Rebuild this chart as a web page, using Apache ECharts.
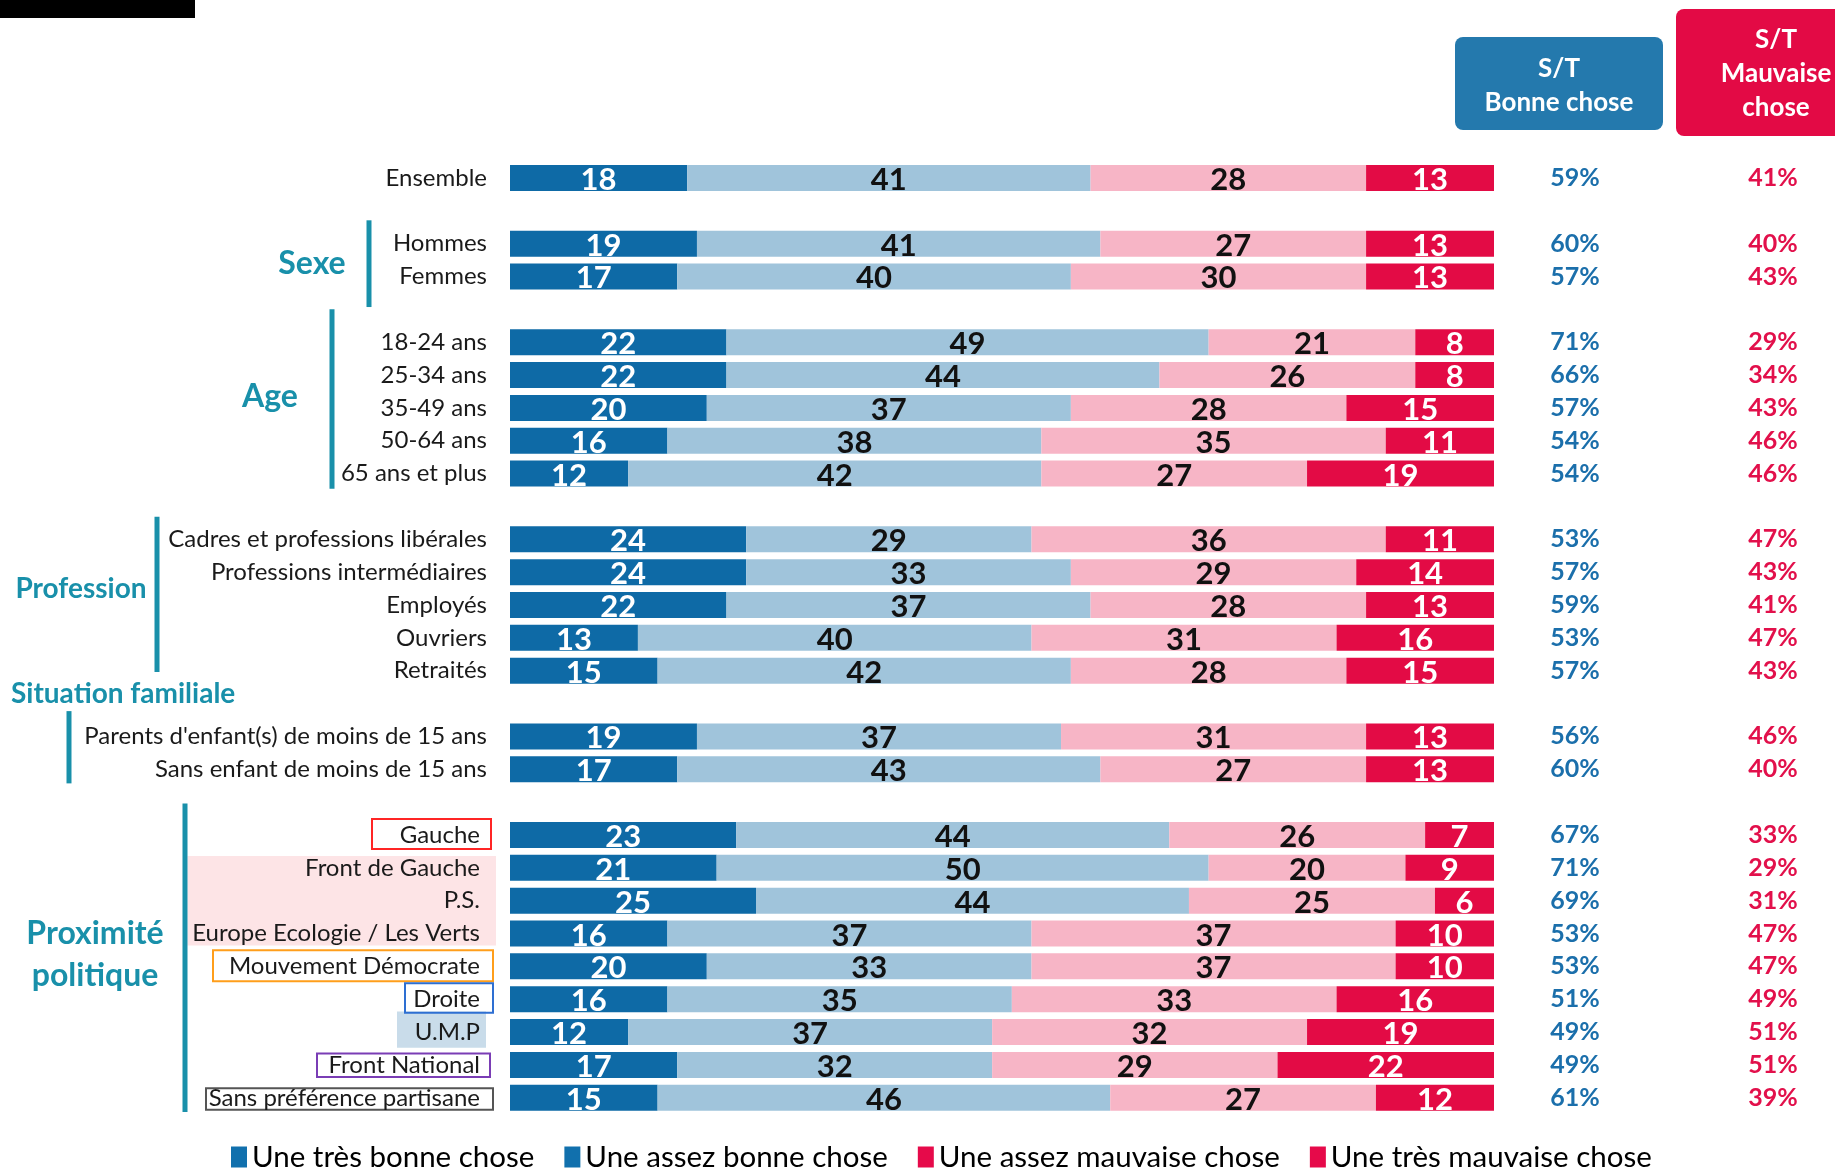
<!DOCTYPE html>
<html><head><meta charset="utf-8">
<script src="https://cdn.jsdelivr.net/npm/echarts@6/dist/echarts.min.js"></script>
<style>html,body{margin:0;padding:0;background:#fff}#c{width:1835px;height:1172px}</style>
</head><body><div id="c"></div>
<script>
const categories = ['Ensemble','Hommes','Femmes','18-24 ans','25-34 ans','35-49 ans','50-64 ans','65 ans et plus',
  'Cadres et professions libérales','Professions intermédiaires','Employés','Ouvriers','Retraités',
  "Parents d'enfant(s) de moins de 15 ans",'Sans enfant de moins de 15 ans',
  'Gauche','Front de Gauche','P.S.','Europe Ecologie / Les Verts','Mouvement Démocrate','Droite','U.M.P','Front National','Sans préférence partisane'];
const groupSizes = [1,2,5,5,2,9];
const groupTitles = ['', 'Sexe', 'Age', 'Profession', 'Situation familiale', 'Proximité\npolitique'];
const seriesNames = ['Une très bonne chose','Une assez bonne chose','Une assez mauvaise chose','Une très mauvaise chose'];
const tresBonne     = [18,19,17,22,22,20,16,12,24,24,22,13,15,19,17,23,21,25,16,20,16,12,17,15];
const assezBonne    = [41,41,40,49,44,37,38,42,29,33,37,40,42,37,43,44,50,44,37,33,35,37,32,46];
const assezMauvaise = [28,27,30,21,26,28,35,27,36,29,28,31,28,31,27,26,20,25,37,37,33,32,29,27];
const tresMauvaise  = [13,13,13,8,8,15,11,19,11,14,13,16,15,13,13,7,9,6,10,10,16,19,22,12];
const stBonne    = ['59%','60%','57%','71%','66%','57%','54%','54%','53%','57%','59%','53%','57%','56%','60%','67%','71%','69%','53%','53%','51%','49%','49%','61%'];
const stMauvaise = ['41%','40%','43%','29%','34%','43%','46%','46%','47%','43%','41%','47%','43%','46%','40%','33%','29%','31%','47%','47%','49%','51%','51%','39%'];
const headerBonne = 'S/T\nBonne chose';
const headerMauvaise = 'S/T\nMauvaise\nchose';

// build rows with spacer rows between groups
const rowCats = [], rowIdx = [];
let k = 0, sp = 0;
groupSizes.forEach((n, g) => {
  if (g > 0) { sp++; rowCats.push(' '.repeat(sp)); rowIdx.push(-1); }
  for (let j = 0; j < n; j++) { rowCats.push(categories[k]); rowIdx.push(k); k++; }
});
const polStart = groupSizes.slice(0,5).reduce((a,b)=>a+b,0);
const mapRows = arr => rowIdx.map(i => i < 0 ? null : arr[i]);

const FONT = 'Lato';
const barColors = ['#0e6aa6','#a0c4db','#f7b5c6','#e30b45'];
const labelColors = ['#fff','#111','#111','#fff'];
const legendColors = ['#1170ad','#1170ad','#e60a4a','#e60a4a'];
const teal = '#1990aa';
const valueArrays = [tresBonne, assezBonne, assezMauvaise, tresMauvaise];

const chart = echarts.init(document.getElementById('c'), null, {renderer:'canvas'});
const pctAxis = (labels, offset, color) => ({
  type:'category', data: rowCats, inverse:true, position:'right', offset: offset,
  axisLine:{show:false}, axisTick:{show:false}, splitLine:{show:false},
  axisLabel:{interval:0, margin:0, align:'center', fontFamily:FONT, fontWeight:'bold', fontSize:25, color: color,
    formatter:(v, i) => rowIdx[i] < 0 ? '' : labels[rowIdx[i]]}
});
chart.setOption({
  animation:false,
  grid:{left:510, right:341, top:161.5, bottom:57.8, containLabel:false},
  xAxis:{type:'value', min:0, max:100, show:false},
  yAxis:[
    {type:'category', data: rowCats, inverse:true,
     axisLine:{show:false}, axisTick:{show:false}, splitLine:{show:false},
     axisLabel:{interval:0, margin:23, fontFamily:FONT, fontSize:24, color:'#1a1a1a',
       formatter:(v, i) => rowIdx[i] < 0 ? '' : (rowIdx[i] >= polStart ? '{p|' + v + '}' : v),
       rich:{p:{fontFamily:FONT, fontSize:24, color:'#1a1a1a', padding:[0,7,0,0]}}}},
    pctAxis(stBonne, 81, '#1b6fab'),
    pctAxis(stMauvaise, 279, '#e2104b')
  ],
  legend:{left:226, top:1137, icon:'rect', itemWidth:16, itemHeight:21, itemGap:30,
    textStyle:{fontFamily:FONT, fontSize:29.5, color:'#000'},
    data: seriesNames.map((n,i)=>({name:n, itemStyle:{color:legendColors[i]}}))},
  series: seriesNames.map((n,i)=>({
    name:n, type:'bar', stack:'all', barWidth:26, yAxisIndex:0,
    itemStyle:{color:barColors[i]},
    label:{show:true, position:'inside', offset:[0,2], fontFamily:FONT, fontWeight:'bold', fontSize:31, color:labelColors[i],
      formatter: p => p.value == null ? '' : String(p.value)},
    data: mapRows(valueArrays[i])
  }))
});

// decorations (group brackets, titles, label boxes, headers)
const rowY = name => chart.convertToPixel({yAxisIndex:0}, name);
const pitch = rowY(rowCats[1]) - rowY(rowCats[0]);
const groupDeco = [
  null,
  {lineX:369, top:-0.71, bottom:0.93, tx:312, ty:0.6, align:'center', fs:32},
  {lineX:332, top:-1.0, bottom:0.46, tx:270, ty:1.65, align:'center', fs:32},
  {lineX:157, top:-0.69, bottom:0.04, tx:81, ty:1.5, align:'center', fs:28},
  {lineX:69, top:-0.77, bottom:0.43, tx:11, ty:-1.29, align:'left', fs:28},
  {lineX:185, top:-0.96, bottom:0.43, tx:95, ty:3.63, align:'center', fs:32}
];
const graphic = [];
graphic.push({type:'rect', shape:{x:0,y:0,width:195,height:18}, style:{fill:'#000'}});
let start = 0;
groupSizes.forEach((n, g) => {
  const d = groupDeco[g];
  if (d) {
    const y0 = rowY(categories[start]), y1 = rowY(categories[start+n-1]);
    graphic.push({type:'rect', shape:{x:d.lineX-2.5, y:y0 + d.top*pitch, width:5, height:(y1 + d.bottom*pitch) - (y0 + d.top*pitch)}, style:{fill:teal}});
    graphic.push({type:'text', x:d.tx, y:y0 + d.ty*pitch, style:{text:groupTitles[g], fill:teal, font:'bold '+d.fs+'px '+FONT, align:d.align, verticalAlign:'middle', lineHeight:42}});
  }
  start += n;
});
// label highlight fills
graphic.push({type:'rect', z:-5, shape:{x:187.5, y:rowY('Front de Gauche')-11.7, width:308.5, height:rowY('Europe Ecologie / Les Verts')+12-(rowY('Front de Gauche')-11.7)}, style:{fill:'#fde4e6'}});
graphic.push({type:'rect', z:-5, shape:{x:397, y:rowY('U.M.P')-20.5, width:89, height:36.3}, style:{fill:'#c9dcea'}});
const boxes = [
  ['Gauche', 372, 491, -16, 14, '#ff2525'],
  ['Mouvement Démocrate', 213, 493, -16, 15, '#ff9e1b'],
  ['Droite', 405, 493, -16, 13.5, '#2e6fd2'],
  ['Front National', 317, 490, -11.5, 12, '#7a3db5'],
  ['Sans préférence partisane', 206, 493, -9.5, 12, '#555555']
];
boxes.forEach(b => {
  const c = rowY(b[0]);
  graphic.push({type:'rect', shape:{x:b[1], y:c+b[3], width:b[2]-b[1], height:b[4]-b[3]}, style:{fill:'none', stroke:b[5], lineWidth:2}});
});
// header boxes
graphic.push({type:'rect', shape:{x:1455, y:37, width:208, height:93, r:8}, style:{fill:'#2479ad'}});
graphic.push({type:'text', x:1559, y:86, style:{text:headerBonne, fill:'#fff', font:'bold 26px '+FONT, align:'center', verticalAlign:'middle', lineHeight:34}});
graphic.push({type:'rect', shape:{x:1676, y:9, width:175, height:127, r:8}, style:{fill:'#e30a45'}});
graphic.push({type:'text', x:1776, y:74, style:{text:headerMauvaise, fill:'#fff', font:'bold 26px '+FONT, align:'center', verticalAlign:'middle', lineHeight:34}});
chart.setOption({graphic: graphic});
</script></body></html>
